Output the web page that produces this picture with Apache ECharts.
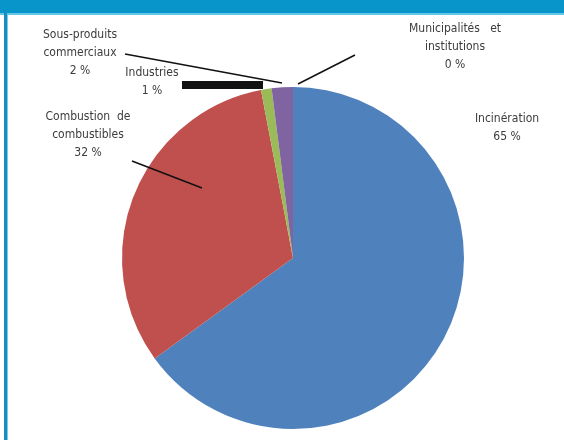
<!DOCTYPE html>
<html>
<head>
<meta charset="utf-8">
<style>
  html, body { margin: 0; padding: 0; background: #ffffff; }
  #chart { width: 564px; height: 440px; }
</style>
<script src="https://cdn.jsdelivr.net/npm/echarts@6/dist/echarts.min.js"></script>
</head>
<body>
<div id="chart"></div>
<script>
// Répartition par source (%)
const categories = [
  'Incinération',
  'Combustion  de\ncombustibles',
  'Industries',
  'Sous-produits\ncommerciaux',
  'Municipalités   et\ninstitutions'
];
const shares = [65, 32, 1, 2, 0];
const colors = ['#4F81BD', '#C0504D', '#9BBB59', '#8064A2', '#4BACC6'];

// Label anchor (centre of the text block) and leader line for each slice;
// `over` lines are drawn above the sectors.
const labelPlacement = [
  { x: 507, y: 128, line: null },
  { x: 88,  y: 135, line: [[202, 188], [132, 161]], over: true },
  { x: 152, y: 82,  line: [[263, 85], [182, 85]], width: 8 },
  { x: 80,  y: 53,  line: [[282, 83], [125, 54]] },
  { x: 455, y: 47,  line: [[298, 84], [355, 55]] }
];

const chart = echarts.init(document.getElementById('chart'), null, { renderer: 'canvas' });

const font = "'DejaVu Sans'";

const overLines = labelPlacement
  .filter(pl => pl.over)
  .map(pl => ({
    type: 'line',
    z: 20,
    shape: { x1: pl.line[0][0], y1: pl.line[0][1], x2: pl.line[1][0], y2: pl.line[1][1] },
    style: { stroke: '#111111', lineWidth: 1.5 }
  }));

chart.setOption({
  animation: false,
  backgroundColor: '#ffffff',
  graphic: [
    { type: 'rect', shape: { x: 0, y: 0, width: 564, height: 13 }, style: { fill: '#0896CA' }, z: 10 },
    { type: 'rect', shape: { x: 0, y: 13, width: 564, height: 2 }, style: { fill: '#62C6E4' }, z: 10 },
    { type: 'rect', shape: { x: 4, y: 13, width: 3, height: 427 }, style: { fill: '#1A8CC2' }, z: 10 },
    { type: 'rect', shape: { x: 7, y: 15, width: 1, height: 425 }, style: { fill: '#72CDE8' }, z: 10 }
  ].concat(overLines),
  series: [{
    type: 'pie',
    center: [293, 258],
    radius: [0, 171],
    startAngle: 90,
    clockwise: true,
    avoidLabelOverlap: false,
    minShowLabelAngle: 0,
    stillShowZeroSum: true,
    emphasis: { disabled: true },
    itemStyle: { borderWidth: 0 },
    label: {
      show: true,
      position: 'outside',
      fontFamily: font,
      fontWeight: 'condensed',
      fontSize: 12,
      lineHeight: 18,
      color: '#3c3c3c',
      align: 'center',
      formatter: p => p.name + '\n' + p.value + ' %'
    },
    labelLine: {
      show: true,
      lineStyle: { color: '#111111', width: 1.5 }
    },
    labelLayout: params => {
      const pl = labelPlacement[params.dataIndex];
      const out = { x: pl.x, y: pl.y, align: 'center', verticalAlign: 'middle' };
      if (pl.line && !pl.over) out.labelLinePoints = pl.line.concat([pl.line[1]]);
      return out;
    },
    data: categories.map((name, i) => ({
      name: name,
      value: shares[i],
      itemStyle: { color: colors[i] },
      labelLine: {
        show: !!labelPlacement[i].line && !labelPlacement[i].over,
        lineStyle: { width: labelPlacement[i].width || 1.5 }
      }
    }))
  }]
});
</script>
</body>
</html>
